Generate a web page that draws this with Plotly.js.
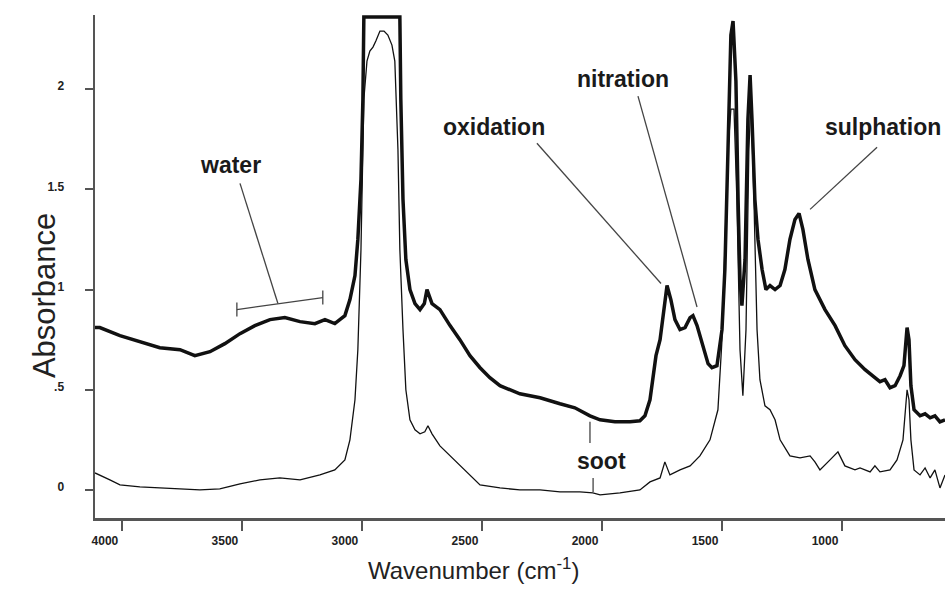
<!DOCTYPE html>
<html>
<head>
<meta charset="utf-8">
<script src="https://cdn.plot.ly/plotly-3.0.1.min.js"></script>
<style>html,body{margin:0;padding:0;background:#fff;}#chart{width:945px;height:612px;}</style>
</head>
<body>
<div id="chart"></div>
<script>
// Used oil (thick trace)
const usedWavenumber = [4112,4092,4008,3925,3842,3758,3696,3633,3571,3508,3446,3383,3321,3258,3196,3154,3113,3071,3050,3029,3017,3004,2996,2992,2842,2838,2829,2817,2800,2779,2758,2740,2729,2708,2675,2633,2592,2550,2508,2467,2425,2342,2258,2175,2113,2050,2008,1946,1883,1842,1821,1800,1788,1775,1758,1746,1729,1713,1696,1675,1654,1633,1621,1604,1579,1558,1542,1521,1500,1488,1475,1463,1454,1442,1433,1425,1417,1404,1392,1383,1375,1363,1350,1333,1317,1300,1279,1258,1238,1217,1196,1179,1163,1142,1113,1071,1029,988,946,904,863,842,821,800,779,758,742,729,721,713,700,675,654,633,613,592,571];
const usedAbsorbance = [0.81,0.81,0.77,0.74,0.71,0.70,0.67,0.69,0.73,0.78,0.82,0.85,0.86,0.84,0.83,0.85,0.83,0.87,0.95,1.07,1.25,1.55,1.95,2.36,2.36,1.95,1.45,1.15,1.00,0.93,0.90,0.93,1.00,0.93,0.90,0.82,0.75,0.67,0.61,0.56,0.52,0.48,0.46,0.43,0.41,0.37,0.35,0.34,0.34,0.345,0.37,0.45,0.57,0.67,0.75,0.85,1.02,0.95,0.85,0.80,0.81,0.86,0.87,0.82,0.72,0.63,0.61,0.62,0.80,1.10,1.70,2.27,2.34,2.04,1.45,1.05,0.92,1.15,1.85,2.07,1.85,1.45,1.25,1.10,1.00,1.02,1.00,1.02,1.10,1.25,1.35,1.38,1.30,1.15,1.00,0.90,0.82,0.72,0.65,0.60,0.56,0.54,0.55,0.51,0.52,0.57,0.62,0.81,0.75,0.52,0.40,0.37,0.38,0.36,0.37,0.34,0.35];

// New oil (thin trace)
const newWavenumber = [4112,4092,4050,4008,3925,3842,3758,3675,3592,3508,3425,3342,3258,3175,3113,3071,3050,3029,3017,3004,2992,2979,2967,2954,2942,2925,2908,2892,2875,2863,2850,2842,2829,2817,2800,2779,2758,2738,2725,2708,2675,2633,2592,2550,2508,2425,2342,2258,2175,2092,2038,2008,1925,1842,1800,1758,1738,1717,1675,1633,1592,1550,1517,1500,1488,1475,1463,1450,1438,1425,1413,1400,1388,1379,1367,1354,1342,1321,1300,1279,1258,1217,1175,1133,1113,1092,1050,1017,988,946,925,883,863,842,800,771,746,729,721,713,700,675,654,633,613,592,571];
const newAbsorbance = [0.085,0.075,0.05,0.025,0.015,0.01,0.005,0.0,0.005,0.03,0.05,0.06,0.05,0.075,0.10,0.15,0.25,0.45,0.70,1.20,1.95,2.14,2.19,2.21,2.24,2.29,2.29,2.27,2.22,2.14,1.70,1.20,0.80,0.50,0.35,0.30,0.28,0.29,0.32,0.28,0.22,0.17,0.12,0.075,0.025,0.01,0.0,0.0,-0.01,-0.01,-0.015,-0.025,-0.015,0.0,0.04,0.06,0.14,0.075,0.10,0.12,0.17,0.25,0.40,0.75,1.20,1.70,1.90,1.90,1.45,0.70,0.47,0.80,1.70,1.95,1.45,0.80,0.55,0.42,0.40,0.35,0.25,0.17,0.16,0.17,0.14,0.10,0.15,0.19,0.12,0.10,0.11,0.09,0.12,0.09,0.10,0.15,0.25,0.50,0.45,0.25,0.10,0.075,0.11,0.06,0.10,0.01,0.075];

const xTickValues = [4000,3500,3000,2500,2000,1500,1000];
const xTickLabels = ['4000','3500','3000','2500','2000','1500','1000'];
const yTickValues = [0,0.5,1,1.5,2];
const yTickLabels = ['0','.5','1','1.5','2'];
const bandLabels = ['water','oxidation','nitration','sulphation','soot'];

const FONT = 'Liberation Sans, Arial, Helvetica, sans-serif';
const ink = '#111';
const pointer = '#444';

const traces = [
  {x: newWavenumber, y: newAbsorbance, type: 'scatter', mode: 'lines',
   line: {color: ink, width: 1.3}, hoverinfo: 'skip', showlegend: false},
  {x: usedWavenumber, y: usedAbsorbance, type: 'scatter', mode: 'lines',
   line: {color: ink, width: 3.5}, hoverinfo: 'skip', showlegend: false}
];

function lbl(text, x, y) {
  return {text: '<b>' + text + '</b>', x: x, y: y, xref: 'x', yref: 'y', showarrow: false,
          font: {family: FONT, size: 23, color: '#1a1a1a'}};
}
function seg(x0, y0, x1, y1, w) {
  return {type: 'line', xref: 'x', yref: 'y', x0: x0, y0: y0, x1: x1, y1: y1,
          line: {color: pointer, width: w || 1.3}};
}

const layout = {
  width: 945, height: 612,
  margin: {l: 95, r: 0, t: 15, b: 94},
  paper_bgcolor: '#fff', plot_bgcolor: '#fff',
  font: {family: FONT, color: '#222'},
  xaxis: {
    range: [4112, 571], showgrid: false, zeroline: false,
    showline: true, linecolor: '#555', linewidth: 2.5,
    ticks: 'outside', ticklen: 10, tickwidth: 2, tickcolor: '#555',
    tickvals: xTickValues, ticktext: xTickLabels.map(t => '<b>' + t + '</b>'),
    tickfont: {family: FONT, size: 12, color: '#222'},
    ticklabelshift: 17, ticklabelstandoff: 0
  },
  yaxis: {
    range: [-0.14, 2.37], showgrid: false, zeroline: false,
    showline: true, linecolor: '#555', linewidth: 2.5,
    ticks: 'outside', ticklen: 8, tickwidth: 2, tickcolor: '#555',
    tickvals: yTickValues, ticktext: yTickLabels.map(t => '<b>' + t + '</b>'),
    tickfont: {family: FONT, size: 12, color: '#222'},
    ticklabelstandoff: 18, ticklabelshift: -3
  },
  annotations: [
    lbl(bandLabels[0], 3546, 1.62),
    lbl(bandLabels[1], 2450, 1.81),
    lbl(bandLabels[2], 1912, 2.05),
    lbl(bandLabels[3], 829, 1.81),
    lbl(bandLabels[4], 2000, 0.145),
    {text: 'Absorbance', xref: 'paper', yref: 'paper', x: -0.083, y: 0.443,
     textangle: -90, showarrow: false, font: {family: FONT, size: 31, color: '#222'}},
    {text: 'Wavenumber (cm<sup>-1</sup>)', xref: 'paper', yref: 'paper', x: 0.445, y: -0.135,
     showarrow: false, font: {family: FONT, size: 24, color: '#222'}}
  ],
  shapes: [
    // water
    seg(3508, 1.53, 3350, 0.93),
    seg(3521, 0.90, 3163, 0.96),
    seg(3521, 0.865, 3521, 0.935),
    seg(3163, 0.925, 3163, 0.995),
    // oxidation
    seg(2271, 1.73, 1754, 1.03),
    // nitration
    seg(1850, 1.965, 1604, 0.913),
    // sulphation
    seg(854, 1.71, 1133, 1.40),
    // soot
    seg(2050, 0.34, 2050, 0.234),
    seg(2037, 0.06, 2037, -0.01)
  ]
};

Plotly.newPlot('chart', traces, layout, {displayModeBar: false, staticPlot: true});
</script>
</body>
</html>
